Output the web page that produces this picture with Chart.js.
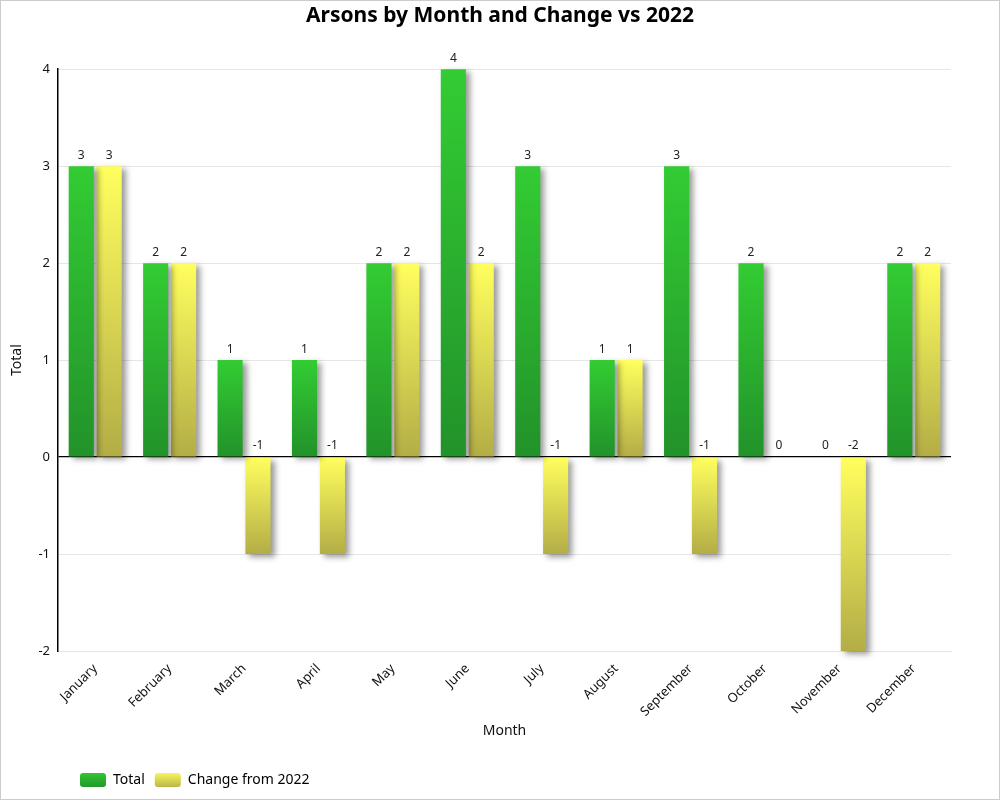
<!DOCTYPE html>
<html>
<head>
<meta charset="utf-8">
<script src="https://cdn.jsdelivr.net/npm/chart.js@4/dist/chart.umd.min.js"></script>
<style>
  html, body { margin: 0; padding: 0; background: #fff; }
  #wrap { width: 1000px; height: 800px; box-sizing: border-box; border: 1px solid #cccccc; }
</style>
</head>
<body>
<div id="wrap"><canvas id="arsonChart" width="998" height="798"></canvas></div>
<script>
const months = ['January', 'February', 'March', 'April', 'May', 'June',
    'July', 'August', 'September', 'October', 'November', 'December'];
const totals = [3, 2, 1, 1, 2, 4, 3, 1, 3, 2, 0, 2];
const changes = [3, 2, -1, -1, 2, 2, -1, 1, -1, 0, -2, 2];

const FONT = "'Noto Sans', 'Liberation Sans', sans-serif";

const greenTop = '#33cc33', greenBottom = '#22922a';
const yellowTop = '#ffff5e', yellowBottom = '#b3ad46';

// gradient along each bar, light at the top, darker at the bottom
function barGradient(context, top, bottom) {
    const chart = context.chart;
    if (!chart.chartArea || context.type !== 'data') return top;
    const y = chart.scales.y;
    const v = context.raw;
    const y1 = y.getPixelForValue(Math.max(v, 0));
    const y2 = y.getPixelForValue(Math.min(v, 0));
    if (y2 - y1 < 1) return top;
    const g = chart.ctx.createLinearGradient(0, y1, 0, y2);
    g.addColorStop(0, top);
    g.addColorStop(1, bottom);
    return g;
}

function legendGradient(chart, top, bottom) {
    const lg = chart.legend;
    if (!lg || !lg.bottom) return top;
    const g = chart.ctx.createLinearGradient(0, lg.top + 8, 0, lg.bottom - 8);
    g.addColorStop(0, top);
    g.addColorStop(1, bottom);
    return g;
}

const barShadow = {
    id: 'barShadow',
    beforeDatasetsDraw(chart) {
        const c = chart.ctx;
        c.save();
        c.shadowColor = 'rgba(0,0,0,0.4)';
        c.shadowBlur = 6;
        c.shadowOffsetX = 4;
        c.shadowOffsetY = 3;
    },
    afterDatasetsDraw(chart) {
        chart.ctx.restore();
    }
};

const valueLabels = {
    id: 'valueLabels',
    afterDatasetsDraw(chart) {
        const c = chart.ctx;
        const zero = chart.scales.y.getPixelForValue(0);
        c.save();
        c.font = '12px ' + FONT;
        c.fillStyle = '#222';
        c.textAlign = 'center';
        c.textBaseline = 'bottom';
        chart.data.datasets.forEach((ds, i) => {
            chart.getDatasetMeta(i).data.forEach((bar, j) => {
                const top = ds.data[j] >= 0 ? bar.y : zero;
                c.fillText(String(ds.data[j]), bar.x, top - 5);
            });
        });
        c.restore();
    }
};

// legend starts a little right of the axis, title centred on the whole canvas
const placeBlocks = {
    id: 'placeBlocks',
    afterLayout(chart) {
        chart.legend.left += 12;
        const t = chart.titleBlock;
        if (t) {
            t.left = 0;
            t.right = chart.width;
            t.width = chart.width;
        }
    }
};

new Chart(document.getElementById('arsonChart').getContext('2d'), {
    type: 'bar',
    data: {
        labels: months,
        datasets: [{
            label: 'Total',
            data: totals,
            backgroundColor: ctx => barGradient(ctx, greenTop, greenBottom)
        }, {
            label: 'Change from 2022',
            data: changes,
            backgroundColor: ctx => barGradient(ctx, yellowTop, yellowBottom)
        }]
    },
    options: {
        responsive: false,
        animation: false,
        devicePixelRatio: 1,
        layout: { padding: { left: 8, right: 48, top: 0, bottom: 2 } },
        datasets: {
            bar: { categoryPercentage: 0.75, barPercentage: 0.9, clip: false }
        },
        plugins: {
            title: {
                display: true,
                text: 'Arsons by Month and Change vs 2022',
                color: '#000',
                font: { family: FONT, size: 21, weight: 'bold' },
                padding: { top: 2, bottom: 41 }
            },
            legend: {
                position: 'bottom',
                align: 'start',
                fullSize: false,
                labels: {
                    color: '#222',
                    font: { family: FONT, size: 14 },
                    boxWidth: 26,
                    boxHeight: 14,
                    padding: 10,
                    useBorderRadius: true,
                    borderRadius: 3,
                    generateLabels(chart) {
                        return [
                            { text: 'Total', fillStyle: legendGradient(chart, greenTop, greenBottom),
                              strokeStyle: 'rgba(0,0,0,0)', lineWidth: 0, datasetIndex: 0, borderRadius: 3 },
                            { text: 'Change from 2022', fillStyle: legendGradient(chart, yellowTop, yellowBottom),
                              strokeStyle: 'rgba(0,0,0,0)', lineWidth: 0, datasetIndex: 1, borderRadius: 3 }
                        ];
                    }
                }
            },
            tooltip: { enabled: false }
        },
        scales: {
            x: {
                grid: { display: false },
                border: { color: '#e6e6e6' },
                ticks: {
                    color: '#111',
                    font: { family: FONT, size: 13 },
                    maxRotation: 45,
                    minRotation: 45,
                    padding: 2
                },
                title: {
                    display: true,
                    text: 'Month',
                    color: '#111',
                    font: { family: FONT, size: 14 },
                    padding: { top: 4, bottom: 24 }
                },
                afterFit(scale) { scale.height = 112; }
            },
            y: {
                min: -2,
                max: 4,
                ticks: {
                    stepSize: 1,
                    color: '#111',
                    font: { family: FONT, size: 13 },
                    padding: 8
                },
                grid: {
                    drawTicks: false,
                    color: ctx => ctx.tick && ctx.tick.value === 0 ? '#000' : '#e6e6e6',
                    lineWidth: ctx => ctx.tick && ctx.tick.value === 0 ? 1.3 : 1
                },
                border: { color: '#000', width: 1.5 },
                title: {
                    display: true,
                    text: 'Total',
                    color: '#111',
                    font: { family: FONT, size: 14 },
                    padding: { top: 0, bottom: 10 }
                },
                afterFit(scale) { scale.width = 49; }
            }
        }
    },
    plugins: [barShadow, valueLabels, placeBlocks]
});
</script>
</body>
</html>
